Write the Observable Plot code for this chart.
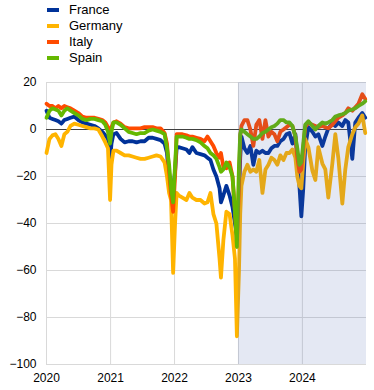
<!DOCTYPE html>
<html><head><meta charset="utf-8">
<script src="https://cdn.jsdelivr.net/npm/d3@7"></script>
<script src="https://cdn.jsdelivr.net/npm/@observablehq/plot@0.6"></script>
<style>
body{margin:0;background:#fff;font-family:Arial,"Liberation Sans",sans-serif;}
#legend{position:relative;height:70px;width:374px;}
.item{position:absolute;left:0;height:16px;width:300px;font-size:13px;line-height:16px;color:#000;}
.sw{position:absolute;left:47px;top:6px;width:12px;height:4px;}
.lab{position:absolute;left:69px;top:0;white-space:nowrap;}
</style></head><body>
<div id="legend"></div><div id="chart"></div>
<script>
const series = ["France", "Germany", "Italy", "Spain"];
const colors = ["#003299", "#ffb400", "#ff4b00", "#65b800"];
const yTicks = [-100, -80, -60, -40, -20, 0, 20];
const xTicks = ["2020-01-01", "2021-01-01", "2022-01-01", "2023-01-01", "2024-01-01"];
const xDomain = ["2020-01-01", "2025-01-01"];
const shade = ["2023-01-01", "2025-01-01"];

const dates = [
"2020-01-01","2020-01-18","2020-02-04","2020-02-21","2020-03-09","2020-03-26","2020-04-12","2020-04-29","2020-05-17","2020-06-08",
"2020-07-01","2020-07-24","2020-08-16","2020-09-08","2020-10-01","2020-10-23","2020-11-15","2020-12-02","2020-12-17","2020-12-29",
"2021-01-06","2021-01-17","2021-02-04","2021-02-27","2021-03-22","2021-04-14","2021-05-06","2021-05-29","2021-06-21","2021-07-14",
"2021-08-06","2021-08-29","2021-09-20","2021-10-13","2021-11-05","2021-11-19","2021-12-01","2021-12-12","2021-12-24","2022-01-04",
"2022-01-13","2022-01-24","2022-02-15","2022-03-10","2022-03-27","2022-04-13","2022-05-06","2022-05-29","2022-06-21","2022-07-08",
"2022-07-25","2022-08-11","2022-08-28","2022-09-15","2022-09-23","2022-10-07","2022-10-24","2022-11-11","2022-11-28","2022-12-12",
"2022-12-23","2023-01-04","2023-01-11","2023-01-18","2023-02-04","2023-02-21","2023-03-10","2023-03-27","2023-04-13","2023-04-30",
"2023-05-18","2023-06-04","2023-06-21","2023-07-08","2023-07-25","2023-08-11","2023-08-28","2023-09-15","2023-10-02","2023-10-19",
"2023-11-05","2023-11-22","2023-12-03","2023-12-15","2023-12-26","2024-01-06","2024-01-17","2024-02-04","2024-02-27","2024-03-15",
"2024-04-01","2024-04-24","2024-05-11","2024-05-28","2024-06-20","2024-07-07","2024-07-24","2024-08-16","2024-09-02","2024-09-19",
"2024-10-12","2024-10-29","2024-11-16","2024-12-08","2024-12-25"
];
const france = [
8,5,4.5,4,3.5,2.5,4,4.5,5,5.5,
4,3,2.5,2,1.5,0.5,-1,-2.5,-4,-13,
-6,-2,-1.5,-4,-5.5,-5,-5,-5.5,-5,-5,
-3.5,-3.5,-4,-4.5,-6,-10,-22,-27,-25,-18,
-8,-7.5,-8,-8.5,-10,-7.5,-10,-10.5,-11,-12,
-13,-17,-20,-25,-31,-28,-24,-28,-33,-40,
-45,-28,-12,-3,-8,-10,-7,-15,-9,-10,
-9,-10,-10,-8,-7,-7,-5,-4,-2,-1.5,
-6,-2,-12,-24,-37,-25,-7.5,1,-1,-3,
-2,-7,-3,0.5,2.5,1.5,3,1.5,4,3,
-12.5,3,5,7,5
];
const germany = [
-10,-4,-2.5,-2,-4,-7,-2,-1,1.5,2.5,
2,1.5,1,0.5,0.5,0,-3,-5.5,-8,-30,
-15,-9,-9,-10,-11,-11,-11.5,-12,-12.5,-12.5,
-12,-11.5,-11,-11.5,-14,-20,-27,-30,-61,-40,
-27,-28,-29,-30,-27,-29,-30,-30,-31.5,-31,
-27,-36,-40,-55,-63,-47,-35,-36,-45,-55,
-88,-60,-36,-24,-18,-15,-18,-17,-18,-13,
-27,-17,-15,-12,-13,-15,-11,-13,-10,-10,
-8.5,-12,-20,-24,-25,-14,-4,-7.5,-17.5,-21.5,
-7.5,-14.5,-17,-29,-14.5,-2,-12,-31.5,-17,-7.5,
-2,1,2.5,6,-1.5
];
const italy = [
11,10,10,9,10,9,10,9.5,9,8,
7,5.5,5,5,5,4.5,4,3,1,-4,
1,3,3.5,2.5,1,0.5,0.5,0.5,0.5,1,
1,1,0.5,0.5,-1.5,-6,-18,-28,-35,-20,
-2,-2,-2,-2.5,-3,-3,-3.5,-4,-5,-3,
-5,-7,-10,-12,-10,-16,-16.5,-14,-20,-35,
-47,-25,-3,1.5,4,4,0,-7,2,4,
-4,4,-3,-1,-2,-5,-1,0,1,2,
1.5,-3,-12,-18,-17,-8,1,3,2,1.5,
1,1.5,1,0.5,2,3.5,5,6,7,9,
8,9.5,11,15,13
];
const spain = [
5,8,9,8.5,8,6,8,9,8,7,
6,4.5,4,4.5,4.5,4,3.5,2,-1,-6,
-1,3,3,2,0.5,-1,-1.5,-2,-1.5,-1.5,
-0.5,0,-0.5,-1,-2,-8,-15,-25,-31,-15,
-3,-3,-3,-3.5,-4,-4,-4.5,-5.5,-7,-8,
-10,-11,-12.5,-16,-18,-17,-14,-16,-20,-35,
-50,-15,-2,0,-1,-2,-3,-4,-4,-3,
-1.5,-1,0,1,1.5,2.5,4,4,3,3,
1.5,-3,-8,-15,-14,-6,2,3.5,1.5,0,
1.5,3,2.5,3,4,5.5,6,6.5,7,8,
8.5,9,10,11,12
];

// legend
const legend = document.getElementById("legend");
series.forEach((s, i) => {
  const item = document.createElement("div");
  item.className = "item";
  item.style.top = (2 + i * 16) + "px";
  item.innerHTML = `<span class="sw" style="background:${colors[i]}"></span><span class="lab">${s}</span>`;
  legend.appendChild(item);
});

const parse = d3.utcParse("%Y-%m-%d");
const values = [france, germany, italy, spain];
const data = series.flatMap((s, i) => dates.map((d, j) => ({date: parse(d), value: values[i][j], series: s})));

const plot = Plot.plot({
  width: 374,
  height: 320,
  marginTop: 12,
  marginBottom: 26,
  marginLeft: 46,
  marginRight: 8,
  style: {fontFamily: "Arial, 'Liberation Sans', sans-serif", fontSize: "12px", color: "#000", background: "transparent", overflow: "visible"},
  x: {type: "utc", domain: xDomain.map(parse), ticks: xTicks.map(parse), tickFormat: d3.utcFormat("%Y"), tickSize: 0, tickPadding: 9, label: null},
  y: {domain: [yTicks[0], yTicks[yTicks.length - 1]], ticks: yTicks, tickSize: 0, tickPadding: 10, label: null},
  color: {domain: series, range: colors},
  marks: [
    Plot.ruleY(yTicks, {stroke: "#d9d9d9", strokeWidth: 1}),
    Plot.ruleX(xTicks.map(parse), {stroke: "#d9d9d9", strokeWidth: 1}),
    Plot.ruleY([0], {stroke: "#404040", strokeWidth: 1}),
    Plot.line(data, {x: "date", y: "value", z: "series", stroke: "series", strokeWidth: 3.8}),
    Plot.rect([{x1: parse(shade[0]), x2: parse(shade[1])}], {x1: "x1", x2: "x2", y1: yTicks[0], y2: yTicks[yTicks.length - 1], fill: "#4b66af", fillOpacity: 0.15})
  ]
});
document.getElementById("chart").appendChild(plot);
</script>
</body></html>
